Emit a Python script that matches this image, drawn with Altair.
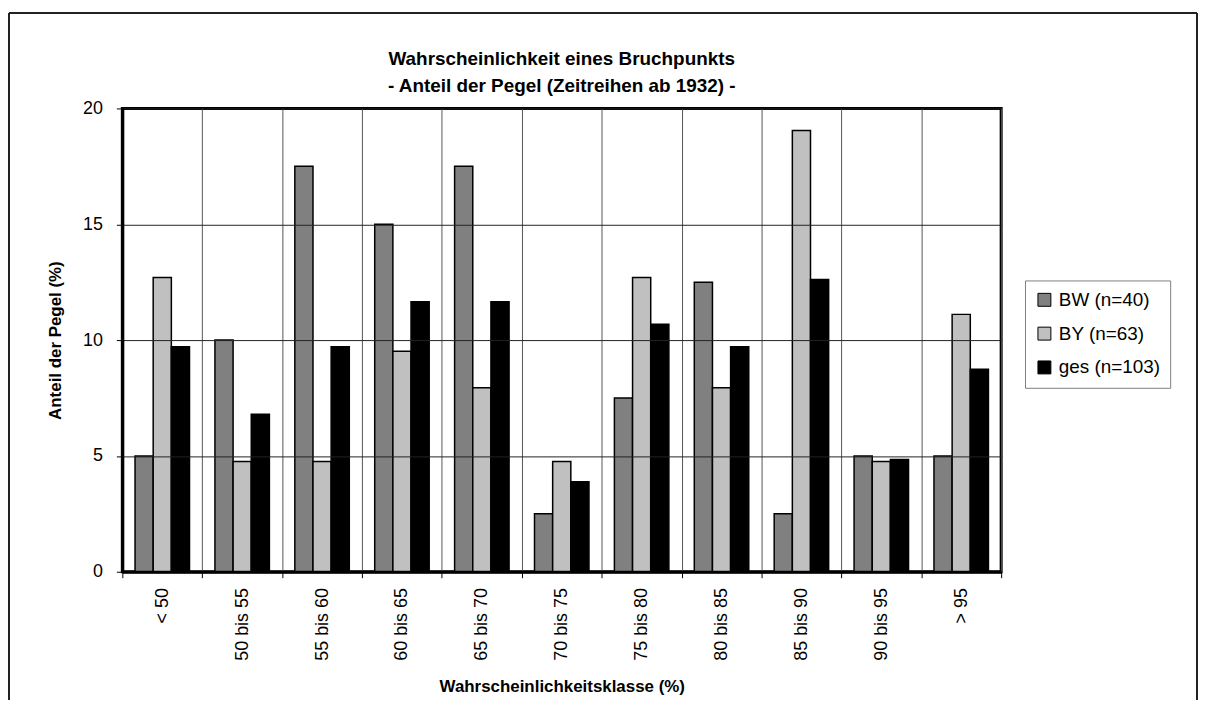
import altair as alt
import pandas as pd

categories = ["< 50", "50 bis 55", "55 bis 60", "60 bis 65", "65 bis 70", "70 bis 75",
              "75 bis 80", "80 bis 85", "85 bis 90", "90 bis 95", "> 95"]
series = ["BW (n=40)", "BY (n=63)", "ges (n=103)"]
bw = [5.0, 10.0, 17.5, 15.0, 17.5, 2.5, 7.5, 12.5, 2.5, 5.0, 5.0]
by = [12.7, 4.76, 4.76, 9.52, 7.94, 4.76, 12.7, 7.94, 19.05, 4.76, 11.11]
ges = [9.71, 6.80, 9.71, 11.65, 11.65, 3.88, 10.68, 9.71, 12.62, 4.85, 8.74]
colors = ["#808080", "#c0c0c0", "#000000"]

rows = []
for name, vals in zip(series, [bw, by, ges]):
    for c, v in zip(categories, vals):
        rows.append({"Klasse": c, "Serie": name, "Anteil": v})
df = pd.DataFrame(rows)

FONT = "Liberation Sans"

bars = alt.Chart(df).mark_bar(stroke="black", strokeWidth=1.5).encode(
    x=alt.X("Klasse:N", sort=categories,
            scale=alt.Scale(paddingInner=0, paddingOuter=0),
            axis=alt.Axis(title="Wahrscheinlichkeitsklasse (%)", labelAngle=270,
                          tickBand="extent", grid=True, gridColor="#555555", gridWidth=1,
                          domain=True, domainColor="black", domainWidth=3,
                          ticks=True, tickColor="black", tickSize=6, tickWidth=1,
                          labelFontSize=18, labelPadding=10, labelColor="black",
                          titleFontSize=17, titleFontWeight="bold", titlePadding=18,
                          titleColor="black", zindex=1)),
    xOffset=alt.XOffset("Serie:N", sort=series,
                        scale=alt.Scale(paddingInner=0, paddingOuter=0.7)),
    y=alt.Y("Anteil:Q", scale=alt.Scale(domain=[0, 20], nice=False),
            axis=alt.Axis(title="Anteil der Pegel (%)", values=[0, 5, 10, 15, 20],
                          grid=True, gridColor="#222222", gridWidth=1,
                          domain=True, domainColor="black", domainWidth=3,
                          tickColor="black", tickSize=6, tickWidth=1,
                          labelFontSize=18, labelPadding=14, labelColor="black",
                          titleFontSize=17, titleFontWeight="bold", titlePadding=18,
                          titleColor="black", zindex=1)),
    color=alt.Color("Serie:N", sort=series,
                    scale=alt.Scale(domain=series, range=colors),
                    legend=alt.Legend(title=None, orient="none", legendX=908, legendY=173,
                                      padding=10, strokeColor="#808080", fillColor="white",
                                      labelFontSize=19, labelColor="black", labelOffset=5,
                                      symbolType="square", symbolSize=169,
                                      symbolStrokeColor="black", symbolStrokeWidth=1,
                                      rowPadding=14)),
)

frame_df = pd.DataFrame({"k": [0]})
frame_left = alt.Chart(frame_df).mark_rule(color="#222222", strokeWidth=2).encode(
    x=alt.value(-114), y=alt.value(-96), y2=alt.value(595))
frame_right = alt.Chart(frame_df).mark_rule(color="#222222", strokeWidth=2).encode(
    x=alt.value(1081), y=alt.value(-96), y2=alt.value(595))
frame_top = alt.Chart(frame_df).mark_rule(color="#222222", strokeWidth=2).encode(
    x=alt.value(-114), x2=alt.value(1081), y=alt.value(-96))

chart = alt.layer(bars, frame_left, frame_right, frame_top).properties(
    width=884, height=466, padding={"left": 0, "top": 2, "right": 0, "bottom": 0},
    title=alt.TitleParams(
        text=["Wahrscheinlichkeit eines Bruchpunkts",
              "- Anteil der Pegel (Zeitreihen ab 1932) -"],
        fontSize=19, font=FONT, fontWeight="bold", lineHeight=27, color="black",
        anchor="middle", frame="group", offset=-84),
).configure(font=FONT).configure_view(stroke="black", strokeWidth=3)

chart.save("out.html", embed_options={"renderer": "svg", "actions": False})
